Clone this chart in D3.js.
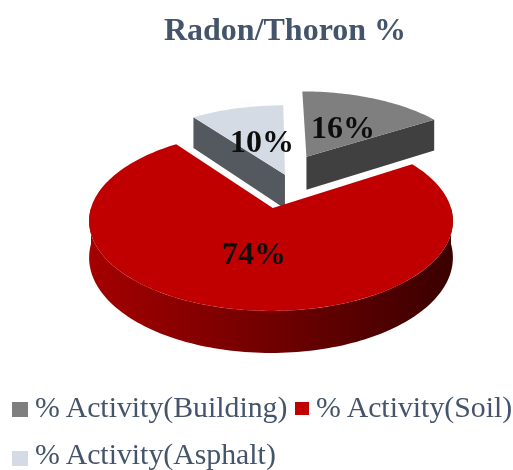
<!DOCTYPE html>
<html>
<head>
<meta charset="utf-8">
<script src="https://cdn.jsdelivr.net/npm/d3@7"></script>
<style>
  html, body { margin: 0; padding: 0; background: #fff; }
  svg { display: block; filter: blur(0.4px); }
  text { font-family: "Liberation Serif", serif; }
</style>
</head>
<body>
<div id="chart"></div>
<script>
// chart data
const chartTitle = "Radon/Thoron %";
const categories = ["% Activity(Building)", "% Activity(Soil)", "% Activity(Asphalt)"];
const shares = [16, 74, 10];
const topColors = ["#7f7f7f", "#c00000", "#d4dbe5"];
const wallColors = ["#404040", "#700000", "#53595e"];

const width = 513;
const height = 470;

const svg = d3.select("#chart")
    .append("svg")
    .attr("width", width)
    .attr("height", height);

// tilted pie: disc coords (u,v) go through a small perspective so the far side is flatter
const apexX = 271, apexY = 208;
const persp = 0.144, scaleU = 180, scaleV = 88.1, depth = 36;

function project(u, v, drop) {
  const w = 1 + persp * v;
  return [apexX + scaleU * u / w, apexY - scaleV * v / w + (drop ? depth / w : 0)];
}

const pieLayout = d3.pie().sort(null).value(d => d)(shares);

// exploded slices are pushed away from the middle of the disc
const offsets = [[0.215, 0.635], [0.01, 0], [0.082, 0.4]];

const line = d3.line();

function rimPoints(a0, a1, off, drop) {
  const n = Math.max(2, Math.ceil((a1 - a0) * 40));
  return d3.range(n + 1).map(i => {
    const a = a0 + (a1 - a0) * i / n;
    return project(off[0] + Math.sin(a), off[1] + Math.cos(a), drop);
  });
}

const defs = svg.append("defs");
const soilGrad = defs.append("linearGradient")
    .attr("id", "soilWall")
    .attr("gradientUnits", "userSpaceOnUse")
    .attr("x1", 90).attr("x2", 453).attr("y1", 0).attr("y2", 0);
soilGrad.append("stop").attr("offset", "0").attr("stop-color", "#a40000");
soilGrad.append("stop").attr("offset", "0.5").attr("stop-color", "#700000");
soilGrad.append("stop").attr("offset", "1").attr("stop-color", "#3a0000");

function drawSlice(i) {
  const slice = pieLayout[i];
  const off = offsets[i];
  const a0 = slice.startAngle, a1 = slice.endAngle;
  const g = svg.append("g");
  const apex = project(off[0], off[1], false);
  const apexLow = project(off[0], off[1], true);

  if (i === 1) {
    // outer wall of the big slice, front half only
    const top = rimPoints(Math.PI / 2, 3 * Math.PI / 2, [0, 0], false);
    const low = rimPoints(Math.PI / 2, 3 * Math.PI / 2, [0, 0], true).reverse();
    g.append("path")
        .attr("d", line(top.concat(low)) + "Z")
        .attr("fill", "url(#soilWall)");
  } else {
    // cut face that looks at the viewer
    const edge = i === 0 ? a1 : a0;
    const rimTop = project(off[0] + Math.sin(edge), off[1] + Math.cos(edge), false);
    const rimLow = project(off[0] + Math.sin(edge), off[1] + Math.cos(edge), true);
    g.append("path")
        .attr("d", line([apex, rimTop, rimLow, apexLow]) + "Z")
        .attr("fill", wallColors[i]);
  }

  // big slice keeps its rim on the full circle, only the point moves
  const rim = i === 1 ? rimPoints(a0, a1, [0, 0], false) : rimPoints(a0, a1, off, false);
  g.append("path")
      .attr("d", line([apex].concat(rim)) + "Z")
      .attr("fill", topColors[i]);
}

drawSlice(2);
drawSlice(0);
drawSlice(1);

// title
svg.append("text")
    .attr("x", 285)
    .attr("y", 40)
    .attr("text-anchor", "middle")
    .attr("font-size", 32)
    .attr("font-weight", "bold")
    .attr("fill", "#44546a")
    .text(chartTitle);

// value labels
const labelPos = [[343, 138], [254, 264], [262, 152]];
svg.selectAll(".value")
    .data(shares)
    .join("text")
    .attr("class", "value")
    .attr("x", (d, i) => labelPos[i][0])
    .attr("y", (d, i) => labelPos[i][1])
    .attr("text-anchor", "middle")
    .attr("font-size", 32)
    .attr("font-weight", "bold")
    .attr("fill", "#0d0d0d")
    .text(d => d + "%");

// legend
const legendPos = [[12, 417], [295, 417], [12, 464]];
const swatch = [16, 14, 16];
categories.forEach((name, i) => {
  const [x, y] = legendPos[i];
  svg.append("rect")
      .attr("x", x)
      .attr("y", i === 2 ? y - 13 : y - 15)
      .attr("width", swatch[i])
      .attr("height", swatch[i] - 1)
      .attr("fill", topColors[i]);
  svg.append("text")
      .attr("x", x + swatch[i] + 7)
      .attr("y", y)
      .attr("font-size", 29.8)
      .attr("fill", "#44546a")
      .text(name);
});
</script>
</body>
</html>
